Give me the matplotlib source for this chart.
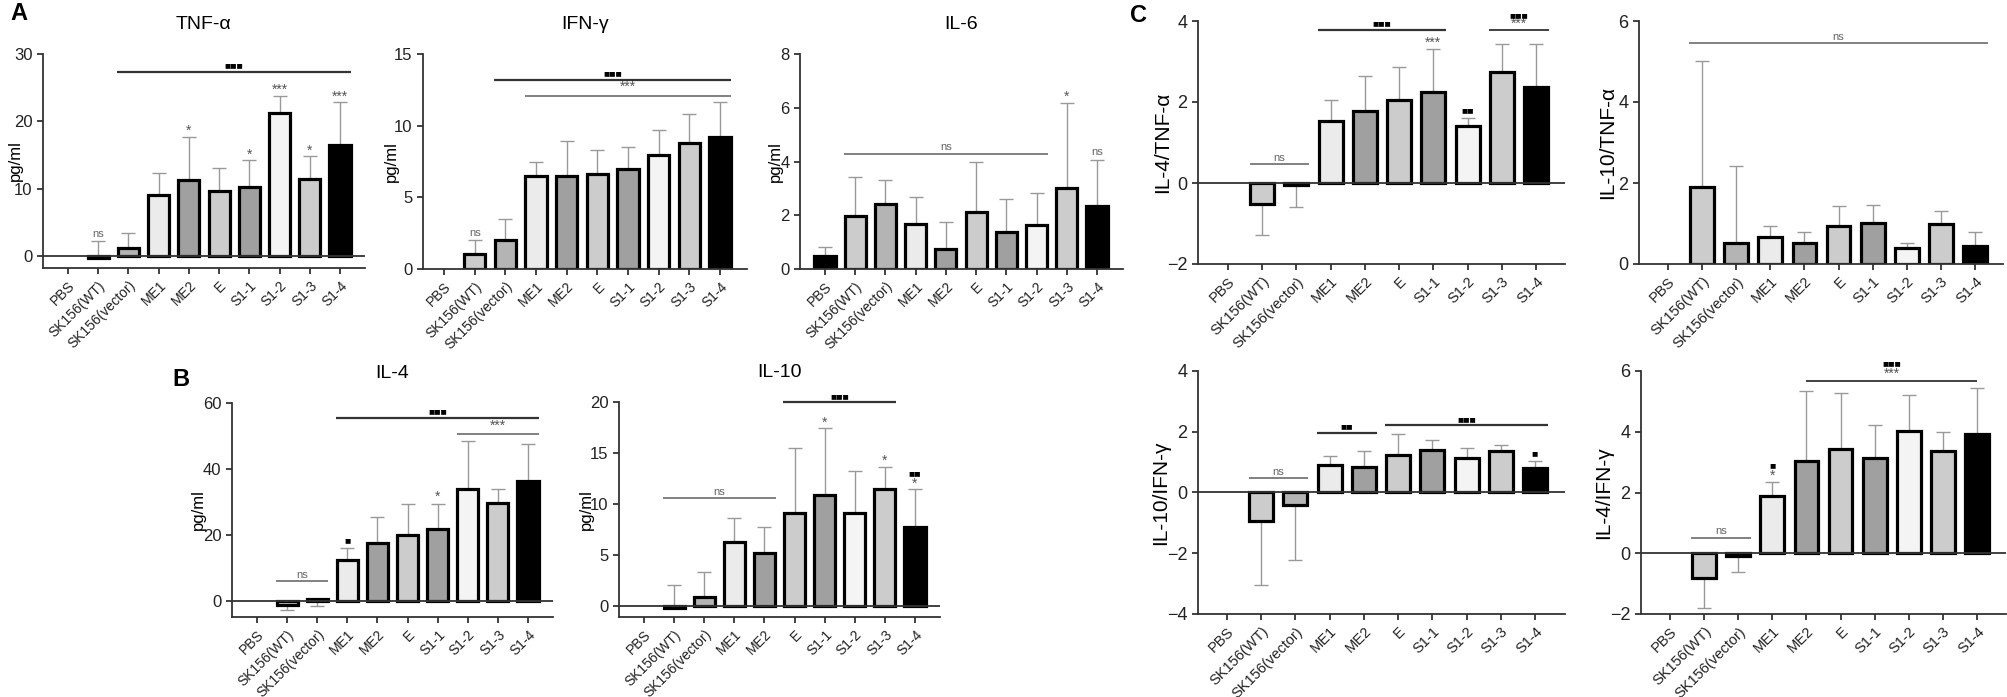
import numpy as np
import matplotlib
matplotlib.use("Agg")
import matplotlib.pyplot as plt

plt.rcParams['font.family'] = ['Liberation Sans', 'DejaVu Sans']

groups = ['PBS', 'SK156(WT)', 'SK156(vector)', 'ME1', 'ME2', 'E', 'S1-1', 'S1-2', 'S1-3', 'S1-4']
bar_colors = ['black', '#cccccc', '#b4b4b4', '#ebebeb', '#a0a0a0', '#cccccc', '#a0a0a0', '#f4f4f4', '#cccccc', 'black']

nan = np.nan
# mean values and the value where the error bar ends
tnf = [nan, -0.3, 1.15, 9.1, 11.3, 9.6, 10.2, 21.3, 11.45, 16.5]
tnf_err = [nan, 2.2, 3.4, 12.4, 17.6, 13.1, 14.2, 23.8, 14.8, 22.8]
ifn = [nan, 1.07, 2.0, 6.5, 6.47, 6.65, 7.0, 7.93, 8.8, 9.18]
ifn_err = [nan, 2.05, 3.5, 7.5, 8.9, 8.28, 8.5, 9.67, 10.8, 11.65]
il6 = [0.47, 1.99, 2.42, 1.67, 0.74, 2.12, 1.38, 1.65, 3.01, 2.33]
il6_err = [0.82, 3.41, 3.3, 2.69, 1.74, 3.97, 2.62, 2.83, 6.18, 4.06]
il4 = [nan, -1.2, 0.4, 12.4, 17.4, 20.0, 21.7, 33.8, 29.7, 36.4]
il4_err = [nan, -2.7, -1.7, 15.9, 25.3, 29.3, 29.5, 48.4, 33.9, 47.7]
il10 = [nan, -0.16, 0.88, 6.3, 5.19, 9.17, 10.93, 9.17, 11.5, 7.73]
il10_err = [nan, 2.12, 3.33, 8.6, 7.77, 15.5, 17.45, 13.25, 13.67, 11.52]
il4_tnf = [nan, -0.51, -0.05, 1.52, 1.78, 2.05, 2.25, 1.41, 2.73, 2.36]
il4_tnf_err = [nan, -1.29, -0.6, 2.05, 2.64, 2.87, 3.32, 1.61, 3.43, 3.43]
il10_tnf = [nan, 1.91, 0.51, 0.67, 0.51, 0.94, 1.01, 0.39, 0.99, 0.45]
il10_tnf_err = [nan, 5.02, 2.42, 0.94, 0.8, 1.44, 1.46, 0.53, 1.31, 0.8]
il10_ifn = [nan, -0.95, -0.41, 0.91, 0.85, 1.24, 1.4, 1.13, 1.35, 0.82]
il10_ifn_err = [nan, -3.04, -2.21, 1.2, 1.38, 1.92, 1.73, 1.46, 1.57, 1.04]
il4_ifn = [nan, -0.8, -0.09, 1.88, 3.03, 3.43, 3.12, 4.02, 3.36, 3.91]
il4_ifn_err = [nan, -1.81, -0.61, 2.35, 5.34, 5.26, 4.22, 5.22, 4.0, 5.44]

# significance marks: (group position, y, text)
tnf_marks = [(1, 3.3, 'ns'), (4, 18.6, '*'), (6, 15.1, '*'), (7, 24.7, '***'), (8, 15.7, '*'), (9, 23.7, '***')]
ifn_marks = [(1, 2.5, 'ns')]
il6_marks = [(8, 6.4, '*'), (9, 4.35, 'ns')]
il4_marks = [(3, 18.3, '■'), (6, 31.5, '*')]
il10_marks = [(6, 18.0, '*'), (8, 14.2, '*'), (9, 12.0, '*'), (9, 13.0, '■■')]
il4_tnf_marks = [(7, 1.8, '■■'), (6, 3.45, '***'), (8.5, 3.92, '***'), (8.5, 4.15, '■■■')]
il10_tnf_marks = []
il10_ifn_marks = [(9, 1.3, '■')]
il4_ifn_marks = [(3, 2.55, '*'), (3, 2.9, '■'), (6.5, 5.9, '***'), (6.5, 6.25, '■■■')]

# brackets: (first group, last group, y, text, to bar edge?)
tnf_lines = [(2, 9, 27.4, '■■■', True)]
ifn_lines = [(2, 9, 13.2, '■■■', True), (3, 9, 12.1, '***', True)]
il6_lines = [(1, 7, 4.29, 'ns', True)]
il4_lines = [(3, 9, 55.6, '■■■', True), (7, 9, 50.6, '***', True), (1, 2, 5.85, 'ns', True)]
il10_lines = [(5, 8, 19.97, '■■■', True), (1, 4, 10.6, 'ns', True)]
il4_tnf_lines = [(3, 6, 3.78, '■■■', True), (8, 9, 3.78, '', True), (1, 2, 0.47, 'ns', True)]
il10_tnf_lines = [(1, 9, 5.45, 'ns', True)]
il10_ifn_lines = [(1, 2, 0.48, 'ns', True), (3, 4, 1.97, '■■', True), (5, 9, 2.22, '■■■', True)]
il4_ifn_lines = [(1, 2, 0.51, 'ns', True), (4, 9, 5.67, '', False)]

W, H = 2008, 697
fig = plt.figure(figsize=(W / 100, H / 100), dpi=100)


def mark_style(txt):
    if '■' in txt:
        return 7.5, 'black'
    if txt == 'ns':
        return 8, '#666666'
    return 10, '#555555'


def panel(px, lab_x, vals, errs, marks, lines, ylim, yticks, title=None, ylabel='pg/ml',
          big=False):
    x0, x1, ytop, ybot, c0, c9 = px
    ax = fig.add_axes([x0 / W, 1 - ybot / H, (x1 - x0) / W, (ybot - ytop) / H])
    sp = (c9 - c0) / 9
    ax.set_xlim((x0 - c0) / sp, 9 + (x1 - c9) / sp)
    ax.set_ylim(*ylim)
    xs = np.arange(10)
    v = np.array(vals, dtype=float)
    e = np.array(errs, dtype=float)
    for i in xs:
        if np.isnan(v[i]):
            continue
        up = max(e[i] - v[i], 0)
        dn = max(v[i] - e[i], 0)
        ax.errorbar(i, v[i], yerr=[[dn], [up]], color='#999999', lw=1.0,
                    capsize=5, capthick=1.0, zorder=1)
    bars = ax.bar(xs, np.nan_to_num(v), width=0.7, color=bar_colors, edgecolor='black',
                  linewidth=2.3, zorder=2)
    for i in xs:
        if np.isnan(v[i]):
            bars[i].set_visible(False)
    if ylim[0] < 0:
        ax.axhline(0, color='#333333', lw=1.3, zorder=3)
    for s in ['top', 'right']:
        ax.spines[s].set_visible(False)
    for s in ['left', 'bottom']:
        ax.spines[s].set_color('#333333')
        ax.spines[s].set_linewidth(1.3)
    ax.set_yticks(yticks)
    ax.tick_params(axis='y', length=4, width=1.2, colors='#222222', labelsize=13 if big else 12)
    ax.set_xticks(xs)
    ax.set_xticklabels(groups, rotation=45, ha='right', rotation_mode='anchor',
                       fontsize=10.5 if big else 10)
    ax.tick_params(axis='x', length=4, width=1.2, colors='#222222')
    ax.set_ylabel(ylabel, fontsize=15 if big else 12)
    # the label's anchor is its right side once rotated
    ax.yaxis.set_label_coords((lab_x - x0) / (x1 - x0), 0.5)
    if title:
        ax.set_title(title, fontsize=14, pad=18)
    for a, b, y, txt, edge in lines:
        dx = 0.37 if edge else 0.0
        sq = '■' in txt
        col = '#333333' if (sq or txt == '') else '#777777'
        ax.plot([a - dx, b + dx], [y, y], color=col, lw=1.6 if sq else 1.3,
                solid_capstyle='butt', clip_on=False, zorder=4)
        if txt:
            fs, c = mark_style(txt)
            ax.annotate(txt, ((a + b) / 2, y), xytext=(0, 1), textcoords='offset points',
                        ha='center', va='bottom', fontsize=fs, color=c,
                        annotation_clip=False)
    for i, y, txt in marks:
        fs, c = mark_style(txt)
        ax.text(i, y, txt, ha='center', va='center', fontsize=fs, color=c, clip_on=False)
    return ax


panel((43, 365, 54, 268, 68, 340), 23, tnf, tnf_err, tnf_marks, tnf_lines, (-1.78, 30), [0, 10, 20, 30], 'TNF-α')
panel((423, 747, 54, 269, 444, 720), 399, ifn, ifn_err, ifn_marks, ifn_lines, (0, 15), [0, 5, 10, 15], 'IFN-γ')
panel((800, 1123, 54, 269, 825, 1097), 783, il6, il6_err, il6_marks, il6_lines, (0, 8), [0, 2, 4, 6, 8], 'IL-6')
panel((232, 553, 403, 617, 257, 528), 206, il4, il4_err, il4_marks, il4_lines, (-4.93, 60), [0, 20, 40, 60], 'IL-4')
panel((619, 940, 402, 617, 644, 915), 594, il10, il10_err, il10_marks, il10_lines, (-1.04, 20), [0, 5, 10, 15, 20], 'IL-10')
panel((1198, 1565, 21, 264, 1228, 1536), 1172, il4_tnf, il4_tnf_err, il4_tnf_marks, il4_tnf_lines, (-2, 4), [-2, 0, 2, 4], ylabel='IL-4/TNF-α', big=True)
panel((1639, 2003, 21, 264, 1668, 1975), 1617, il10_tnf, il10_tnf_err, il10_tnf_marks, il10_tnf_lines, (0, 6), [0, 2, 4, 6], ylabel='IL-10/TNF-α', big=True)
panel((1198, 1565, 371, 614, 1227, 1535), 1170, il10_ifn, il10_ifn_err, il10_ifn_marks, il10_ifn_lines, (-4, 4), [-4, -2, 0, 2, 4], ylabel='IL-10/IFN-γ', big=True)
panel((1641, 2006, 371, 614, 1670, 1977), 1613, il4_ifn, il4_ifn_err, il4_ifn_marks, il4_ifn_lines, (-2, 6), [-2, 0, 2, 4, 6], ylabel='IL-4/IFN-γ', big=True)

fig.text(10 / W, 1 - 14 / H, 'A', fontsize=17, fontweight='bold', va='center', ha='left')
fig.text(172 / W, 1 - 380 / H, 'B', fontsize=17, fontweight='bold', va='center', ha='left')
fig.text(1130 / W, 1 - 15 / H, 'C', fontsize=17, fontweight='bold', va='center', ha='left')

fig.savefig('out.png', dpi=100, facecolor='white')
